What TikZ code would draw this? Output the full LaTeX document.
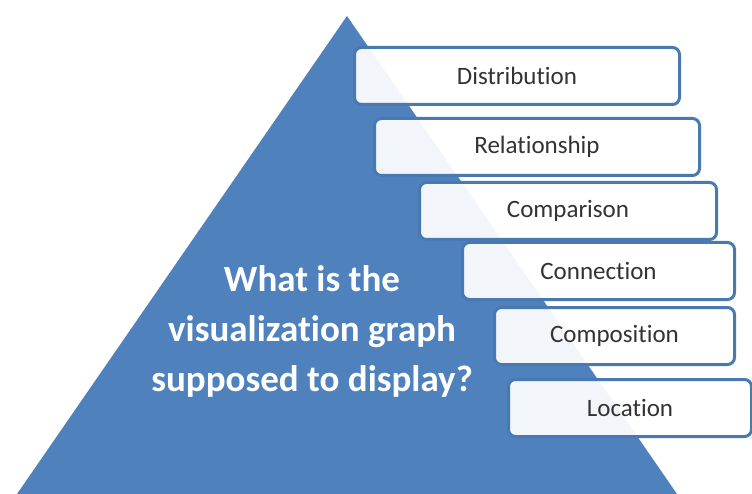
\documentclass[tikz,border=0pt]{standalone}
\usepackage{fontspec}
\newfontfamily\carlito[RawFeature={-liga,-dlig,-calt}]{Carlito}
\usetikzlibrary{positioning}

\definecolor{piramida}{HTML}{4F81BD}
\definecolor{tepi}{HTML}{4A78B0}
\definecolor{teks}{HTML}{333333}

\begin{document}
\begin{tikzpicture}[x=1pt, y=-1pt,
			pyramid/.style={fill=piramida},
			base/.style={font=\carlito\fontsize{25}{28}\selectfont, text=teks, inner sep=0pt},
			block/.style={base, draw=tepi, line width=3pt, fill=white, fill opacity=0.93, text opacity=1.0, rounded corners=7pt, minimum height=57pt, anchor=north west},
			question/.style={font=\carlito\bfseries\fontsize{37}{50}\selectfont, text=white, align=center},
		]

		\useasboundingbox (0,0) rectangle (752,494);
		\fill[pyramid] (347,16) -- (677,494) -- (17,494) -- cycle;

		\node[question] (pertanyaan) at (312,331) {What is the\\visualization graph\\supposed to display?};

		\node[block, minimum width=325pt] (distribution) at (353,46) {Distribution};
		\node[block, minimum width=325pt] (relationship) at (373,117) {Relationship};
		\node[block, minimum width=297pt] (comparison) at (418,181) {Comparison};
		\node[block, minimum width=272pt] (connection) at (461,241) {Connection};
		\node[block, minimum width=240pt] (composition) at (493,306) {Composition};
		\node[block, minimum width=243pt] (location) at (507,378) {Location};

		\end{tikzpicture}
\end{document}
